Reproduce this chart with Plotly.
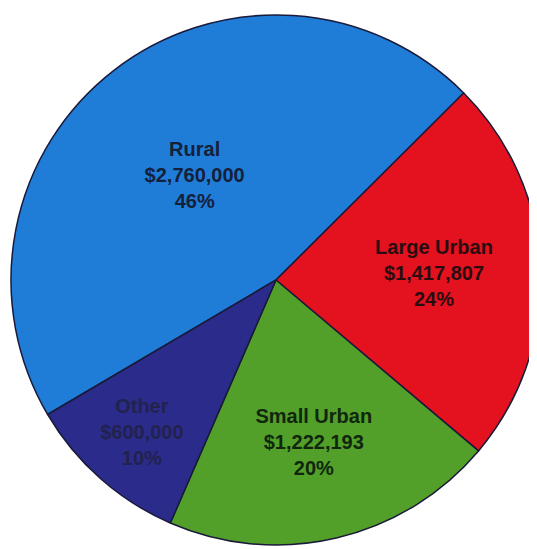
import plotly.graph_objects as go

labels = ["Rural", "Large Urban", "Small Urban", "Other"]
values = [2760000, 1417807, 1222193, 600000]
slice_colors = ["#1f7dd8", "#e4121f", "#52a02a", "#2b2b8c"]
text_colors = ["#15203a", "#2a0c10", "#10260e", "#22224e"]

fig = go.Figure(
    go.Pie(
        labels=labels,
        values=values,
        sort=False,
        direction="clockwise",
        rotation=239.5,
        marker=dict(colors=slice_colors, line=dict(color="#1a1a3a", width=1.5)),
        texttemplate="<b>%{label}<br>$%{value:,}<br>%{percent:.0%}</b>",
        textposition="inside",
        insidetextorientation="horizontal",
        textfont=dict(family="Liberation Sans, Arial, sans-serif", size=20, color=text_colors),
        hoverinfo="label+value+percent",
        domain=dict(x=[3 / 537, 533 / 537], y=[12 / 549, 542 / 549]),
        showlegend=False,
    )
)

fig.update_layout(
    width=537,
    height=549,
    margin=dict(l=0, r=0, t=0, b=0),
    paper_bgcolor="white",
    plot_bgcolor="white",
)

fig.write_html("out.html")
